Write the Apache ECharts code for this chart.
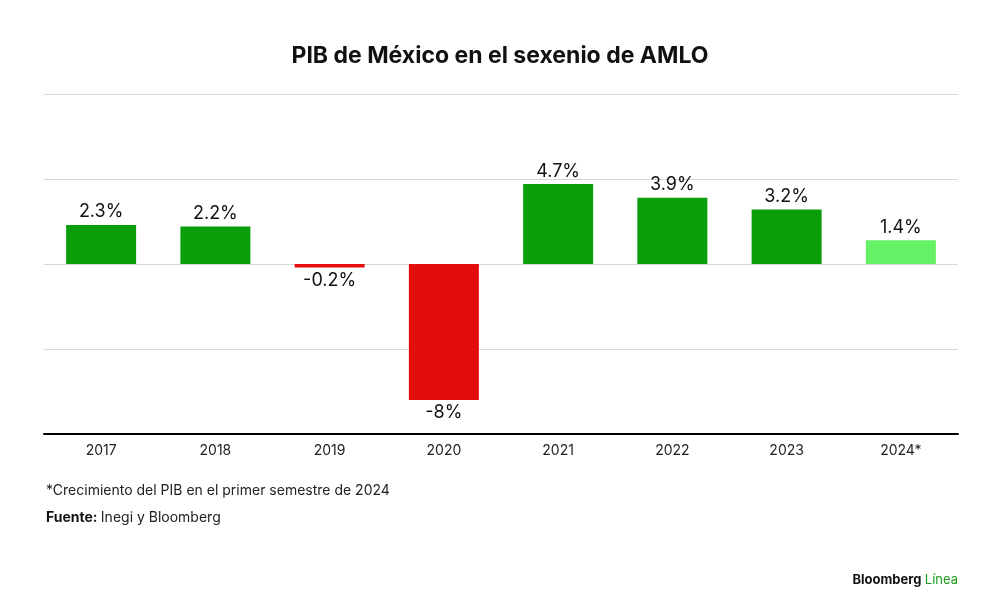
<!DOCTYPE html>
<html><head><meta charset="utf-8">
<script src="https://cdn.jsdelivr.net/npm/echarts@6/dist/echarts.min.js"></script>
<style>body{margin:0;background:#fff}#c{width:1000px;height:615px}</style>
</head><body><div id="c"></div>
<script>
const categories=['2017','2018','2019','2020','2021','2022','2023','2024*'];
const values=[2.3,2.2,-0.2,-8,4.7,3.9,3.2,1.4];
const labels=['2.3%','2.2%','-0.2%','-8%','4.7%','3.9%','3.2%','1.4%'];
const colors=['#0a9e0a','#0a9e0a','#e30d0d','#e30d0d','#0a9e0a','#0a9e0a','#0a9e0a','#66f266'];
const chart=echarts.init(document.getElementById('c'));
chart.setOption({
 animation:false,
 title:{text:'PIB de México en el sexenio de AMLO',left:'center',top:40,textStyle:{fontFamily:'Inter',fontSize:23,fontWeight:'bold',color:'#111'}},
 grid:{left:44,right:42,top:94,bottom:181},
 xAxis:{type:'category',data:categories,position:'bottom',axisLine:{onZero:false,lineStyle:{color:'#000',width:2}},axisTick:{show:false},axisLabel:{fontFamily:'Inter',fontSize:14,color:'#222',margin:10}},
 yAxis:{type:'value',min:-10,max:10,interval:5,axisLabel:{show:false},axisLine:{show:false},axisTick:{show:false},splitLine:{lineStyle:{color:'#d8d8d8'}}},
 series:[{type:'bar',barWidth:70,data:values.map((v,i)=>({value:v,itemStyle:{color:colors[i]},label:{show:true,position:v>=0?'top':'bottom',formatter:labels[i],fontFamily:'Inter',fontSize:18,color:'#111',distance:4}}))}],
 graphic:[
  {type:'text',left:46,top:484,style:{text:'*Crecimiento del PIB en el primer semestre de 2024',font:'14px Inter',fill:'#222'}},
  {type:'text',left:46,top:511,style:{rich:{b:{font:'bold 14px Inter',fill:'#111'},n:{font:'14px Inter',fill:'#222'}},text:'{b|Fuente:} {n|Inegi y Bloomberg}'}},
  {type:'text',right:42,top:574,style:{rich:{b:{font:'bold 13px Inter',fill:'#111'},g:{font:'13px Inter',fill:'#1a9e1a'}},text:'{b|Bloomberg} {g|Línea}'}}
 ]
});
</script></body></html>
